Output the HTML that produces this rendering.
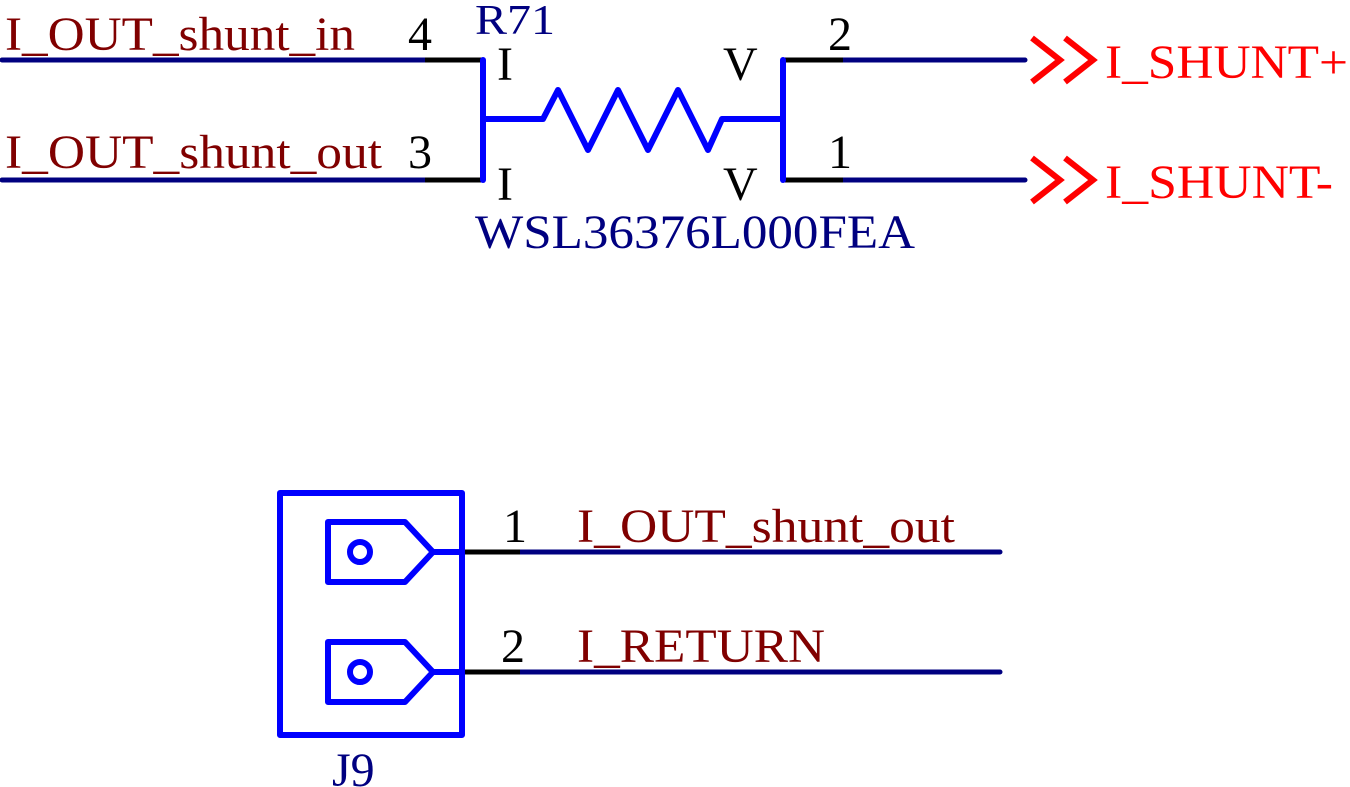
<!DOCTYPE html>
<html><head><meta charset="utf-8"><style>
html,body{margin:0;padding:0;background:#fff;}
svg{display:block;}
text{font-family:"Liberation Serif",serif;}
</style></head><body>
<svg width="1350" height="787" viewBox="0 0 1350 787">
<g font-size="48" fill="#800000">
<text x="5" y="50" textLength="350" lengthAdjust="spacingAndGlyphs">I_OUT_shunt_in</text>
<text x="5" y="168" textLength="377" lengthAdjust="spacingAndGlyphs">I_OUT_shunt_out</text>
<text x="577" y="542" textLength="378" lengthAdjust="spacingAndGlyphs">I_OUT_shunt_out</text>
<text x="577" y="662" textLength="248" lengthAdjust="spacingAndGlyphs">I_RETURN</text>
</g>
<g font-size="48" fill="#000">
<text x="408" y="50">4</text>
<text x="408" y="168">3</text>
<text x="828" y="50">2</text>
<text x="828" y="168">1</text>
<text x="503" y="542">1</text>
<text x="501" y="662">2</text>
<text x="497" y="80">I</text>
<text x="497" y="200">I</text>
<text x="723" y="80">V</text>
<text x="723" y="200">V</text>
</g>
<g fill="#000080">
<text x="475" y="34" font-size="42" textLength="80" lengthAdjust="spacingAndGlyphs">R71</text>
<text x="475" y="248" font-size="48" textLength="440" lengthAdjust="spacingAndGlyphs">WSL36376L000FEA</text>
<text x="332" y="786" font-size="48">J9</text>
</g>
<g stroke="#000080" stroke-width="5" stroke-linecap="round">
<line x1="2" y1="60" x2="425" y2="60"/>
<line x1="2" y1="180" x2="425" y2="180"/>
<line x1="843" y1="60" x2="1025" y2="60"/>
<line x1="843" y1="180" x2="1025" y2="180"/>
<line x1="520" y1="552" x2="1000" y2="552"/>
<line x1="520" y1="672" x2="1000" y2="672"/>
</g>
<g stroke="#000" stroke-width="5">
<line x1="425" y1="60" x2="483" y2="60"/>
<line x1="425" y1="180" x2="483" y2="180"/>
<line x1="783" y1="60" x2="843" y2="60"/>
<line x1="783" y1="180" x2="843" y2="180"/>
<line x1="462" y1="552" x2="520" y2="552"/>
<line x1="462" y1="672" x2="520" y2="672"/>
</g>
<g stroke="#0000ff" stroke-width="6" fill="none" stroke-linecap="round" stroke-linejoin="round">
<line x1="483" y1="60" x2="483" y2="180"/>
<line x1="783" y1="60" x2="783" y2="180"/>
<polyline points="483,119 543,119 558,90 588,150 618,90 648,150 678,90 708,150 722,119 783,119"/>
</g>
<g stroke="#0000ff" stroke-width="6" fill="none" stroke-linejoin="round">
<rect x="280" y="493" width="182" height="242"/>
<polygon points="328,522 405,522 433,552 405,582 328,582"/>
<polygon points="328,642 405,642 433,672 405,702 328,702"/>
<line x1="433" y1="552" x2="462" y2="552"/>
<line x1="433" y1="672" x2="462" y2="672"/>
<circle cx="360" cy="552" r="10"/>
<circle cx="360" cy="672" r="10"/>
</g>
<g stroke="#ff0000" stroke-width="6" fill="none">
<polyline points="1032,38 1060,60 1032,82"/>
<polyline points="1065,38 1093,60 1065,82"/>
<polyline points="1032,158 1060,180 1032,202"/>
<polyline points="1065,158 1093,180 1065,202"/>
</g>
<g font-size="48" fill="#ff0000">
<text x="1105" y="78" textLength="243" lengthAdjust="spacingAndGlyphs">I_SHUNT+</text>
<text x="1105" y="198" textLength="228" lengthAdjust="spacingAndGlyphs">I_SHUNT-</text>
</g>
</svg>
</body></html>
